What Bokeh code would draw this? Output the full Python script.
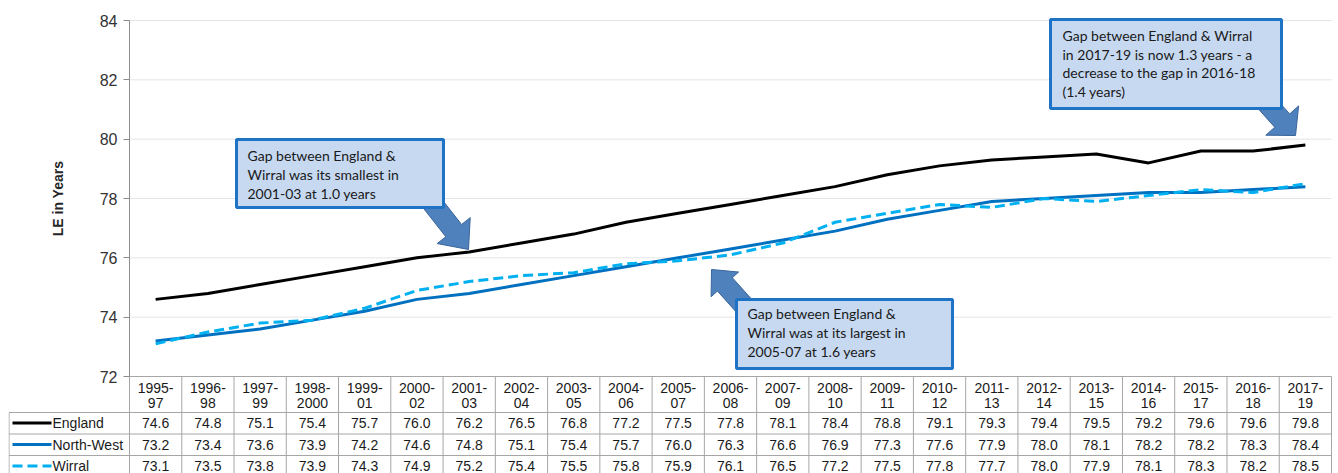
from bokeh.plotting import figure
from bokeh.models import Range1d, LinearAxis, FixedTicker
from bokeh.core.properties import value
from bokeh.embed import file_html
from bokeh.resources import INLINE

# ---- data -------------------------------------------------------------
periods = ["1995-97", "1996-98", "1997-99", "1998-2000", "1999-01", "2000-02",
           "2001-03", "2002-04", "2003-05", "2004-06", "2005-07", "2006-08",
           "2007-09", "2008-10", "2009-11", "2010-12", "2011-13", "2012-14",
           "2013-15", "2014-16", "2015-17", "2016-18", "2017-19"]
england = [74.6, 74.8, 75.1, 75.4, 75.7, 76.0, 76.2, 76.5, 76.8, 77.2, 77.5, 77.8,
           78.1, 78.4, 78.8, 79.1, 79.3, 79.4, 79.5, 79.2, 79.6, 79.6, 79.8]
north_west = [73.2, 73.4, 73.6, 73.9, 74.2, 74.6, 74.8, 75.1, 75.4, 75.7, 76.0, 76.3,
              76.6, 76.9, 77.3, 77.6, 77.9, 78.0, 78.1, 78.2, 78.2, 78.3, 78.4]
wirral = [73.1, 73.5, 73.8, 73.9, 74.3, 74.9, 75.2, 75.4, 75.5, 75.8, 75.9, 76.1,
          76.5, 77.2, 77.5, 77.8, 77.7, 78.0, 77.9, 78.1, 78.3, 78.2, 78.5]
series_names = ["England", "North-West", "Wirral"]
y_ticks = [72, 74, 76, 78, 80, 82, 84]

callout_small = ["Gap between England &", "Wirral was its smallest in", "2001-03 at 1.0 years"]
callout_large = ["Gap between England &", "Wirral was at its largest in", "2005-07 at 1.6 years"]
callout_latest = ["Gap between England & Wirral", "in 2017-19 is now 1.3 years - a",
                  "decrease to the gap in 2016-18", "(1.4 years)"]

# ---- layout (pixels) ----------------------------------------------------
W, H = 1338, 473
PLOT_LEFT, PLOT_RIGHT = 129, 1331
PLOT_TOP, PLOT_BOTTOM = 20, 376
TABLE_LEFT = 8
Y_MIN, Y_MAX = 72, 84
n = len(periods)
CW = (PLOT_RIGHT - PLOT_LEFT) / n
PY = (PLOT_BOTTOM - PLOT_TOP) / (Y_MAX - Y_MIN)


def X(px):
    return -0.5 + (px - PLOT_LEFT) / CW


def Y(py):
    return Y_MIN - (py - PLOT_BOTTOM) / PY


idx = list(range(n))
SANS = value("Liberation Sans")
NOTE = value("Lato")
TXT = "#1a1a1a"
TABLE_LINE = "#a6a6a6"

p = figure(width=W, height=H,
           x_range=Range1d(X(TABLE_LEFT), X(PLOT_RIGHT + 1)),
           y_range=Range1d(Y(H), Y(0)),
           x_axis_type=None, y_axis_type=None,
           toolbar_location=None, output_backend="svg",
           min_border_left=TABLE_LEFT, min_border_right=W - PLOT_RIGHT - 1,
           min_border_top=0, min_border_bottom=0,
           outline_line_color=None)
p.background_fill_color = "white"
p.border_fill_color = "white"

# ---- value axis ---------------------------------------------------------
yaxis = LinearAxis(fixed_location=-0.5, bounds=(Y_MIN, Y_MAX),
                   ticker=FixedTicker(ticks=y_ticks),
                   axis_label="LE in Years")
yaxis.axis_line_color = "#8c8c8c"
yaxis.major_tick_line_color = "#8c8c8c"
yaxis.major_tick_out = 6
yaxis.major_tick_in = 0
yaxis.minor_tick_line_color = None
yaxis.major_label_text_font = "Liberation Sans"
yaxis.major_label_text_font_size = "16px"
yaxis.major_label_text_color = "#333333"
yaxis.major_label_standoff = 6
yaxis.axis_label_text_font = "Liberation Sans"
yaxis.axis_label_text_font_size = "14px"
yaxis.axis_label_text_font_style = "bold"
yaxis.axis_label_text_color = "#262626"
yaxis.axis_label_standoff = 31
p.add_layout(yaxis, "left")

# horizontal gridlines
grid_vals = [t for t in y_ticks if t > Y_MIN]
p.segment(x0=-0.5, x1=n - 0.5, y0=grid_vals, y1=grid_vals,
          line_color="#e4e4e4", line_width=1)

# ---- series lines -------------------------------------------------------
p.line(idx, england, line_color="black", line_width=3)
p.line(idx, north_west, line_color="#0070C0", line_width=3)
p.line(idx, wirral, line_color="#00B0F0", line_width=3, line_dash="10 5")

# ---- data table ---------------------------------------------------------
row_lines = [Y(412), Y(433.5), Y(455)]
row_mid = [Y(422.5), Y(444), Y(465.5)]

p.segment(x0=-0.5, x1=n - 0.5, y0=Y_MIN, y1=Y_MIN, line_color=TABLE_LINE, line_width=1)
p.segment(x0=X(TABLE_LEFT + 0.5), x1=n - 0.5, y0=row_lines, y1=row_lines,
          line_color=TABLE_LINE, line_width=1)
col_edges = [i - 0.5 for i in range(n + 1)]
p.segment(x0=col_edges, x1=col_edges, y0=Y_MIN, y1=Y(H),
          line_color=TABLE_LINE, line_width=1)
p.segment(x0=X(TABLE_LEFT + 0.5), x1=X(TABLE_LEFT + 0.5), y0=row_lines[0], y1=Y(H),
          line_color=TABLE_LINE, line_width=1)

head_a = [s.split("-")[0] + "-" for s in periods]
head_b = [s.split("-")[1] for s in periods]
p.text(x=idx, y=Y(387), text=head_a, text_font=SANS, text_font_size="14px",
       text_color=TXT, text_align="center", text_baseline="middle")
p.text(x=idx, y=Y(402.5), text=head_b, text_font=SANS, text_font_size="14px",
       text_color=TXT, text_align="center", text_baseline="middle")

styles = [dict(line_color="black", line_dash="solid"),
          dict(line_color="#0070C0", line_dash="solid"),
          dict(line_color="#00B0F0", line_dash="10 5")]
for series, name, ym, st in zip([england, north_west, wirral], series_names, row_mid, styles):
    p.text(x=idx, y=ym, text=[f"{v:.1f}" for v in series], text_font=SANS,
           text_font_size="14px", text_color=TXT, text_align="center",
           text_baseline="middle")
    p.segment(x0=X(12), x1=X(51), y0=ym, y1=ym, line_width=3, **st)
    p.text(x=X(52), y=ym, text=[name], text_font=SANS, text_font_size="14px",
           text_color=TXT, text_align="left", text_baseline="middle")


# ---- callouts -----------------------------------------------------------
def block_arrow(tail, tip, shaft_w, head_w, head_len):
    (tx, ty), (hx, hy) = tail, tip
    length = ((hx - tx) ** 2 + (hy - ty) ** 2) ** 0.5
    ux, uy = (hx - tx) / length, (hy - ty) / length
    nx, ny = -uy, ux
    bx, by = hx - ux * head_len, hy - uy * head_len
    pts = [(tx + nx * shaft_w / 2, ty + ny * shaft_w / 2),
           (bx + nx * shaft_w / 2, by + ny * shaft_w / 2),
           (bx + nx * head_w / 2, by + ny * head_w / 2),
           (hx, hy),
           (bx - nx * head_w / 2, by - ny * head_w / 2),
           (bx - nx * shaft_w / 2, by - ny * shaft_w / 2),
           (tx - nx * shaft_w / 2, ty - ny * shaft_w / 2)]
    return [X(a) for a, _ in pts], [Y(b) for _, b in pts]


callouts = [
    dict(box=(236, 443, 139, 207), tail=(428, 198), tip=(468, 249), head_w=42, head_len=24,
         text=callout_small, text_x=247, line_y=[155, 174, 193]),
    dict(box=(736, 952, 299, 368), tail=(755, 318), tip=(711, 269), head_w=37, head_len=20,
         text=callout_large, text_x=747, line_y=[313, 332, 351]),
    dict(box=(1050, 1281, 19, 108), tail=(1262, 98), tip=(1295, 135), head_w=44, head_len=20,
         text=callout_latest, text_x=1062, line_y=[35, 54, 72, 91]),
]

for c in callouts:
    ax, ay = block_arrow(c["tail"], c["tip"], 20, c["head_w"], c["head_len"])
    p.patch(ax, ay, fill_color="#4F81BD", line_color="#3A659A", line_width=1)

for c in callouts:
    l, r, t, b = c["box"]
    p.quad(left=X(l), right=X(r), top=Y(t), bottom=Y(b),
           fill_color="#C6D9F1", line_color="#1F73C4", line_width=3)
    p.text(x=X(c["text_x"]), y=[Y(v) for v in c["line_y"]], text=c["text"],
           text_font=NOTE, text_font_size="14px", text_color=TXT,
           text_align="left", text_baseline="middle")

open("out.html", "w").write(file_html(p, INLINE))
